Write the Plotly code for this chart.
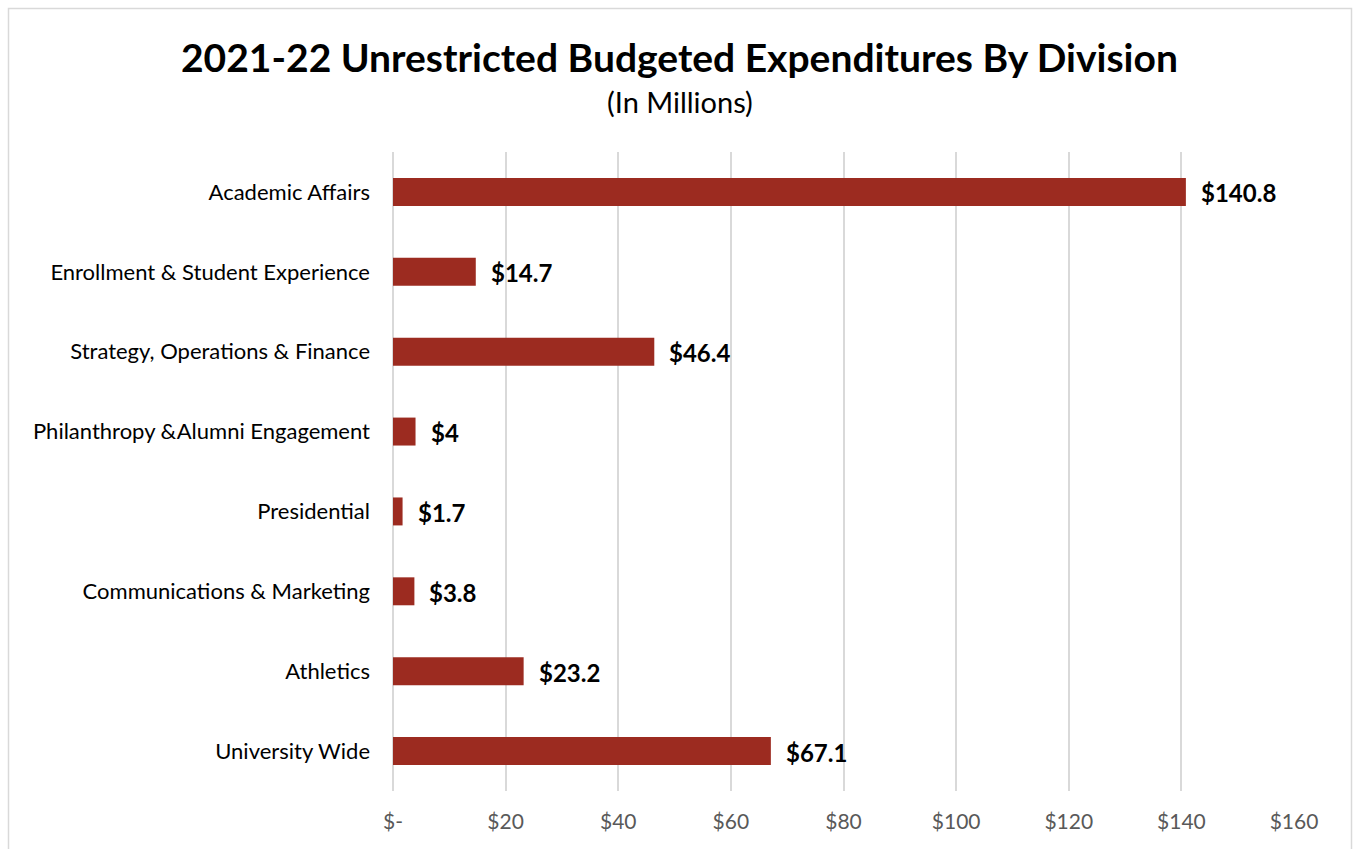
import plotly.graph_objects as go

divisions = [
    "Academic Affairs",
    "Enrollment & Student Experience",
    "Strategy, Operations & Finance",
    "Philanthropy &Alumni Engagement",
    "Presidential",
    "Communications & Marketing",
    "Athletics",
    "University Wide",
]
expenditures = [140.8, 14.7, 46.4, 4, 1.7, 3.8, 23.2, 67.1]
value_labels = ["$140.8", "$14.7", "$46.4", "$4", "$1.7", "$3.8", "$23.2", "$67.1"]
tick_values = [0, 20, 40, 60, 80, 100, 120, 140, 160]
tick_labels = ["$-", "$20", "$40", "$60", "$80", "$100", "$120", "$140", "$160"]

FONT = "Lato, Calibri, sans-serif"
BAR = "#9C2B20"
GRID = "#D9D9D9"

W, H = 1354, 849
L, R, T, B = 393, 60, 152, 58
pw, ph = W - L - R, H - T - B


def px(x):
    return (x - L) / pw


def py(y):
    return (H - B - y) / ph


fig = go.Figure(
    go.Bar(
        x=expenditures,
        y=divisions,
        orientation="h",
        marker=dict(color=BAR, line=dict(width=0)),
        width=0.35,
        hoverinfo="skip",
    )
)

for d, v, lab in zip(divisions, expenditures, value_labels):
    fig.add_annotation(
        x=v, y=d, text=f"<b>{lab}</b>", showarrow=False,
        xanchor="left", yanchor="middle", xshift=13, yshift=-1,
        font=dict(family=FONT, size=24, color="#000000"),
    )

# title and subtitle
fig.add_annotation(
    xref="paper", yref="paper", x=px(679), y=py(57),
    text="<b>2021-22 Unrestricted Budgeted Expenditures By Division</b>",
    showarrow=False, xanchor="center", yanchor="middle",
    font=dict(family=FONT, size=39, color="#000000"),
)
fig.add_annotation(
    xref="paper", yref="paper", x=px(680), y=py(102),
    text="(In Millions)",
    showarrow=False, xanchor="center", yanchor="middle",
    font=dict(family=FONT, size=29, color="#000000"),
)

# outer chart frame
fig.add_shape(
    type="rect", xref="paper", yref="paper",
    x0=px(8.5), x1=px(1351.5), y0=py(870), y1=py(8.5),
    line=dict(color="#D9D9D9", width=1.5), fillcolor="rgba(0,0,0,0)", layer="below",
)

fig.update_layout(
    width=W, height=H,
    margin=dict(l=L, r=R, t=T, b=B, pad=0),
    paper_bgcolor="white", plot_bgcolor="white",
    showlegend=False,
    font=dict(family=FONT),
    xaxis=dict(
        range=[0, 160], tickvals=tick_values, ticktext=tick_labels,
        showgrid=True, gridcolor=GRID, gridwidth=2,
        zeroline=True, zerolinecolor=GRID, zerolinewidth=2,
        showline=False, ticks="",
        tickfont=dict(family=FONT, size=21, color="#595959"),
        ticklabelstandoff=16, fixedrange=True,
    ),
    yaxis=dict(
        categoryorder="array", categoryarray=divisions, autorange="reversed",
        showgrid=False, zeroline=False, showline=False, ticks="",
        tickfont=dict(family=FONT, size=22, color="#000000"),
        ticklabelstandoff=22, fixedrange=True,
    ),
)

fig.write_html("out.html")
